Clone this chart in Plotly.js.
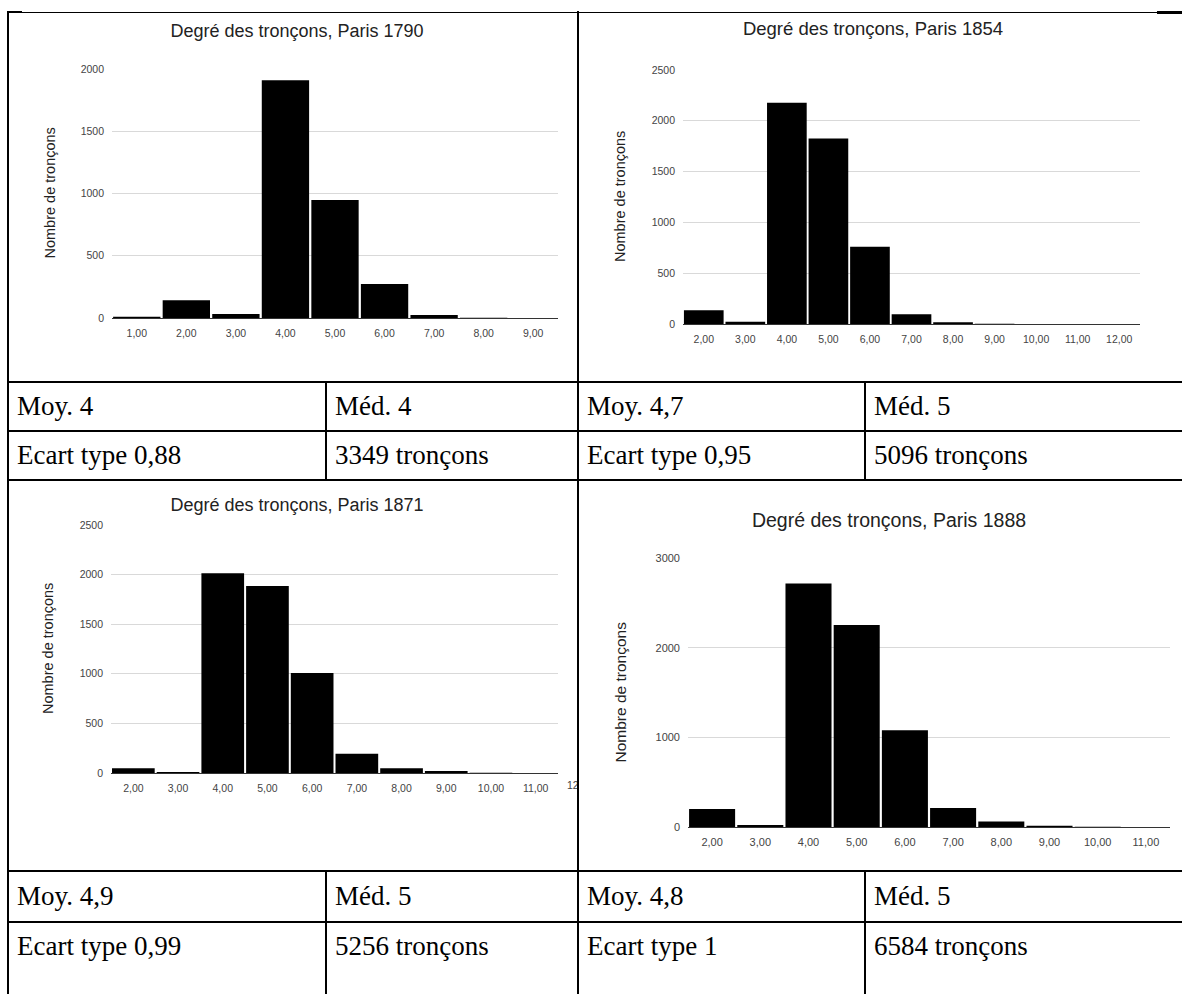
<!DOCTYPE html>
<html><head><meta charset="utf-8">
<script src="https://cdn.plot.ly/plotly-3.0.1.min.js"></script>
<style>
html,body{margin:0;padding:0;background:#fff;width:1182px;height:994px;overflow:hidden;position:relative;}
.ln{position:absolute;background:#000;}
.cell{position:absolute;overflow:hidden;}
.txt{position:absolute;font-family:"Liberation Serif","Times New Roman",serif;font-size:27px;color:#000;display:flex;align-items:center;white-space:nowrap;}
</style></head><body>
<div id="c1790" class="cell"></div>
<div id="c1854" class="cell"></div>
<div id="c1871" class="cell"></div>
<div id="c1888" class="cell"></div>
<script>
// ---- data ----
const cats1790 = [1, 2, 3, 4, 5, 6, 7, 8, 9];
const counts1790 = [10, 142, 32, 1909, 947, 273, 24, 2, 1];
const labels1790 = ['1,00','2,00','3,00','4,00','5,00','6,00','7,00','8,00','9,00'];

const cats1854 = [2, 3, 4, 5, 6, 7, 8, 9, 10, 11, 12];
const counts1854 = [135, 23, 2178, 1827, 761, 95, 16, 3, 1, 1, 1];
const labels1854 = ['2,00','3,00','4,00','5,00','6,00','7,00','8,00','9,00','10,00','11,00','12,00'];

const cats1871 = [2, 3, 4, 5, 6, 7, 8, 9, 10, 11, 12];
const counts1871 = [47, 10, 2013, 1886, 1007, 195, 47, 20, 3, 1, 1];
const labels1871 = ['2,00','3,00','4,00','5,00','6,00','7,00','8,00','9,00','10,00','11,00','12,00'];

const cats1888 = [2, 3, 4, 5, 6, 7, 8, 9, 10, 11];
const counts1888 = [200, 22, 2717, 2253, 1078, 212, 60, 15, 3, 1];
const labels1888 = ['2,00','3,00','4,00','5,00','6,00','7,00','8,00','9,00','10,00','11,00'];

const chartTitles = ['Degré des tronçons, Paris 1790','Degré des tronçons, Paris 1854','Degré des tronçons, Paris 1871','Degré des tronçons, Paris 1888'];
const yAxisTitle = 'Nombre de tronçons';

const means = ['Moy. 4', 'Moy. 4,7', 'Moy. 4,9', 'Moy. 4,8'];
const medians = ['Méd. 4', 'Méd. 5', 'Méd. 5', 'Méd. 5'];
const stdevs = ['Ecart type 0,88', 'Ecart type 0,95', 'Ecart type 0,99', 'Ecart type 1'];
const totals = ['3349 tronçons', '5096 tronçons', '5256 tronçons', '6584 tronçons'];

// ---- table geometry ----
const H = [382, 431, 480, 871, 922];
function line(x, y, w, h) {
  const d = document.createElement('div'); d.className = 'ln';
  d.style.left = x + 'px'; d.style.top = y + 'px'; d.style.width = w + 'px'; d.style.height = h + 'px';
  document.body.appendChild(d);
}
line(7, 12, 1175, 1); line(7, 11, 15, 2); line(1157, 11, 25, 3);
line(7, 11, 2, 983); line(577, 11, 2, 983);
H.forEach(y => line(7, y - 1, 1175, 2));
line(325, H[0], 2, H[2] - H[0]); line(864, H[0], 2, H[2] - H[0]);
line(325, H[3], 2, 994 - H[3]); line(864, H[3], 2, 994 - H[3]);

function txt(s, x, y0, y1) {
  const d = document.createElement('div'); d.className = 'txt';
  d.style.left = x + 'px'; d.style.top = y0 + 'px'; d.style.height = (y1 - y0) + 'px';
  d.textContent = s; document.body.appendChild(d);
}
const colX = [17, 335, 587, 874];
txt(means[0], colX[0], H[0], H[1]); txt(medians[0], colX[1], H[0], H[1]);
txt(means[1], colX[2], H[0], H[1]); txt(medians[1], colX[3], H[0], H[1]);
txt(stdevs[0], colX[0], H[1], H[2]); txt(totals[0], colX[1], H[1], H[2]);
txt(stdevs[1], colX[2], H[1], H[2]); txt(totals[1], colX[3], H[1], H[2]);
txt(means[2], colX[0], H[3], H[4]); txt(medians[2], colX[1], H[3], H[4]);
txt(means[3], colX[2], H[3], H[4]); txt(medians[3], colX[3], H[3], H[4]);
txt(stdevs[2], colX[0], H[4], H[4] + 48); txt(totals[2], colX[1], H[4], H[4] + 48);
txt(stdevs[3], colX[2], H[4], H[4] + 48); txt(totals[3], colX[3], H[4], H[4] + 48);

// ---- charts ----
function chart(id, cats, counts, labels, title, opt) {
  const c = opt.cell, p = opt.plot;
  const el = document.getElementById(id);
  el.style.left = c[0] + 'px'; el.style.top = c[1] + 'px';
  const W = c[2] - c[0], Hh = c[3] - c[1];
  el.style.width = W + 'px'; el.style.height = Hh + 'px';
  const xr = [opt.xmin - 0.5, opt.xmax + 0.5];
  const inX = cats.filter(v => v >= opt.xmin && v <= opt.xmax);
  const inL = labels.filter((l, i) => cats[i] >= opt.xmin && cats[i] <= opt.xmax);
  const ann = [{
    text: yAxisTitle, textangle: -90, showarrow: false,
    xref: 'paper', yref: 'paper',
    x: (opt.ytitleX - p[0]) / (p[2] - p[0]), y: 0.5, xanchor: 'center', yanchor: 'middle',
    font: {family: 'Liberation Sans, Arial, sans-serif', size: opt.ytSize, color: '#222'}
  }];
  cats.forEach((v, i) => {
    if (v > opt.xmax) {
      ann.push({text: labels[i], showarrow: false, xref: 'paper', yref: 'paper',
        x: (v - xr[0]) / (xr[1] - xr[0]), y: 0, xanchor: 'center', yanchor: 'top', yshift: -opt.xstand + 1,
        font: {family: 'Liberation Sans, Arial, sans-serif', size: opt.tickSize, color: '#444'}});
    }
  });
  Plotly.newPlot(el, [{
    type: 'bar', x: cats, y: counts,
    marker: {color: '#000', line: {width: 0}},
    hoverinfo: 'skip'
  }], {
    width: W, height: Hh,
    margin: {l: p[0] - c[0], r: c[2] - p[2], t: p[1] - c[1], b: c[3] - p[3], pad: 0},
    paper_bgcolor: 'rgba(0,0,0,0)', plot_bgcolor: 'rgba(0,0,0,0)',
    bargap: 0.045, showlegend: false,
    font: {family: 'Liberation Sans, Arial, sans-serif', color: '#444'},
    title: {text: title, x: (opt.titleX - c[0]) / W, xref: 'container', xanchor: 'center',
      y: 1 - (opt.titleY - c[1]) / Hh, yref: 'container', yanchor: 'middle',
      font: {family: 'Liberation Sans, Arial, sans-serif', size: opt.titleSize, color: '#222'}},
    xaxis: {range: xr, tickmode: 'array', tickvals: inX, ticktext: inL,
      showgrid: false, zeroline: false, showline: true, linecolor: '#333', linewidth: 1,
      ticks: '', ticklabelstandoff: opt.xstand,
      tickfont: {size: opt.tickSize, color: '#444'}, fixedrange: true},
    yaxis: {range: [0, opt.ymax], dtick: opt.dtick, tick0: 0, showgrid: true, gridcolor: '#d9d9d9', gridwidth: 1,
      zeroline: false, showline: false, ticks: '', ticklabelstandoff: 7,
      tickfont: {size: opt.tickSize, color: '#444'}, fixedrange: true},
    annotations: ann
  }, {staticPlot: true, displayModeBar: false});
}

chart('c1790', cats1790, counts1790, labels1790, chartTitles[0], {
  cell: [9, 13, 577, 381], plot: [112, 69, 558, 318], xmin: 1, xmax: 9,
  ymax: 2000, dtick: 500, titleX: 297, titleY: 31, titleSize: 18, tickSize: 10.5, ytSize: 14.5, ytitleX: 49, xstand: 5});
chart('c1854', cats1854, counts1854, labels1854, chartTitles[1], {
  cell: [579, 13, 1182, 381], plot: [683, 70, 1140, 324], xmin: 2, xmax: 12,
  ymax: 2500, dtick: 500, titleX: 873, titleY: 29, titleSize: 18.5, tickSize: 10.5, ytSize: 14.5, ytitleX: 620, xstand: 5});
chart('c1871', cats1871, counts1871, labels1871, chartTitles[2], {
  cell: [9, 481, 577, 870], plot: [111, 525, 558, 773], xmin: 2, xmax: 11,
  ymax: 2500, dtick: 500, titleX: 297, titleY: 505, titleSize: 18, tickSize: 10.5, ytSize: 14.5, ytitleX: 48, xstand: 5});
chart('c1888', cats1888, counts1888, labels1888, chartTitles[3], {
  cell: [579, 481, 1182, 870], plot: [688, 558, 1170, 827], xmin: 2, xmax: 11,
  ymax: 3000, dtick: 1000, titleX: 889, titleY: 520, titleSize: 19.5, tickSize: 11, ytSize: 15.5, ytitleX: 620, xstand: 5});
</script>
</body></html>
